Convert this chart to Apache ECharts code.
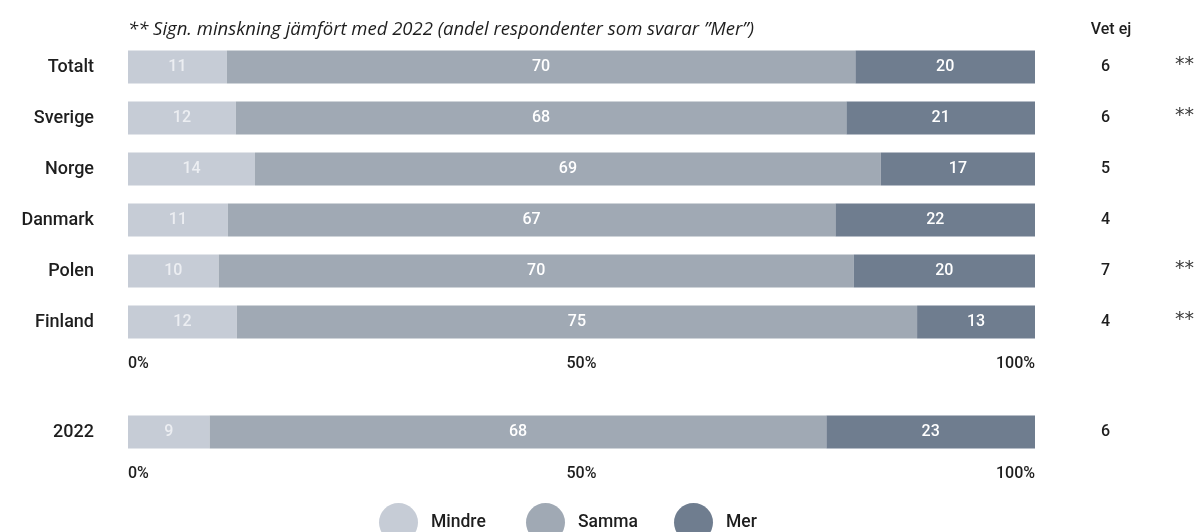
<!DOCTYPE html>
<html><head><meta charset="utf-8">
<script src="https://cdn.jsdelivr.net/npm/echarts@6/dist/echarts.min.js"></script>
<style>html,body{margin:0;padding:0;background:#fff}#c{width:1201px;height:532px}</style>
</head><body><div id="c"></div>
<script>
const categories = ['Totalt','Sverige','Norge','Danmark','Polen','Finland'];
const mindre = [11,12,14,11,10,12];
const samma  = [70,68,69,67,70,75];
const mer    = [20,21,17,22,20,13];
const vetEj  = [6,6,5,4,7,4];
const sign   = ['**','**','','','**','**'];
const cat2022 = ['2022'];
const mindre2022 = [9];
const samma2022 = [68];
const mer2022 = [23];
const vetEj2022 = [6];
const sign2022 = [''];
const tickLabels = {0:'0%',50:'50%',100:'100%'};
const seriesNames = ['Mindre','Samma','Mer'];
const colors = ['#c6ccd6','#a0a9b4','#6f7d8f'];
const labelColors = ['#eceef2','#ffffff','#ffffff'];
const FONT = 'Roboto';
const TXT = '#1e1e1e';

function norm(sets){
  return sets.map(s => s.map((v,i)=>{
    const sum = sets.reduce((a,b)=>a+b[i],0);
    return {value: v/sum*100, raw: v};
  }));
}
const topData = norm([mindre,samma,mer]);
const botData = norm([mindre2022,samma2022,mer2022]);

function xAxis(idx){
  return {gridIndex: idx, type:'value', min:0, max:100, interval:50,
    axisLine:{show:false}, axisTick:{show:false}, splitLine:{show:false},
    axisLabel:{formatter:v=>tickLabels[v]||'', color:TXT, fontSize:16, fontWeight:500, fontFamily:FONT,
      margin:8, alignMinLabel:'left', alignMaxLabel:'right'}};
}
function yAxisLeft(idx, cats){
  return {gridIndex: idx, type:'category', data:cats, inverse:true,
    axisLine:{show:false}, axisTick:{show:false},
    axisLabel:{color:TXT, fontSize:18, fontWeight:500, fontFamily:FONT, margin:34}};
}
function yAxisRight(idx, cats, vals, sig){
  return {gridIndex: idx, type:'category', data:cats, inverse:true, position:'right',
    axisLine:{show:false}, axisTick:{show:false},
    axisLabel:{margin:66, align:'left', formatter:(v,i)=>'{v|'+vals[i]+'}{s|'+sig[i]+'}',
      rich:{v:{width:74, color:TXT, fontSize:16, fontWeight:500, fontFamily:FONT},
            s:{color:'#3a3a3a', fontSize:19, fontFamily:'DejaVu Sans', padding:[0,0,4,0]}}}};
}
function mkSeries(data, xi, yi){
  return data.map((d,k)=>({
    name: seriesNames[k], type:'bar', stack:'s'+xi, xAxisIndex:xi, yAxisIndex:yi,
    barWidth:33, data:d, itemStyle:{color:colors[k]},
    label:{show:true, position:'inside', color:labelColors[k], fontSize:16, fontWeight:500, fontFamily:FONT,
      formatter:p=>p.data.raw}
  }));
}
const legendLefts = [374, 521, 669];
const legends = seriesNames.map((n,i)=>({
  data:[n], left:legendLefts[i], top:498, icon:'circle', itemWidth:39, itemHeight:39,
  textStyle:{fontSize:17.5, fontWeight:500, color:TXT, fontFamily:FONT, padding:[0,0,0,8]}
}));

const chart = echarts.init(document.getElementById('c'));
chart.setOption({
  animation:false,
  textStyle:{fontFamily:FONT},
  title:[
    {text:'** Sign. minskning jämfört med 2022 (andel respondenter som svarar ”Mer”)', left:123, top:15,
     textStyle:{fontSize:18.5, fontStyle:'italic', fontWeight:'normal', color:TXT, fontFamily:'Open Sans'}},
    {text:'Vet ej', left:1106, top:17, textAlign:'center',
     textStyle:{fontSize:16, fontWeight:500, color:TXT, fontFamily:FONT}}
  ],
  legend:legends,
  grid:[
    {left:128, width:907, top:41.5, height:306},
    {left:128, width:907, top:406.5, height:51}
  ],
  xAxis:[xAxis(0), xAxis(1)],
  yAxis:[yAxisLeft(0,categories), yAxisLeft(1,cat2022),
         yAxisRight(0,categories,vetEj,sign), yAxisRight(1,cat2022,vetEj2022,sign2022)],
  series:[...mkSeries(topData,0,0), ...mkSeries(botData,1,1)]
});
</script></body></html>
